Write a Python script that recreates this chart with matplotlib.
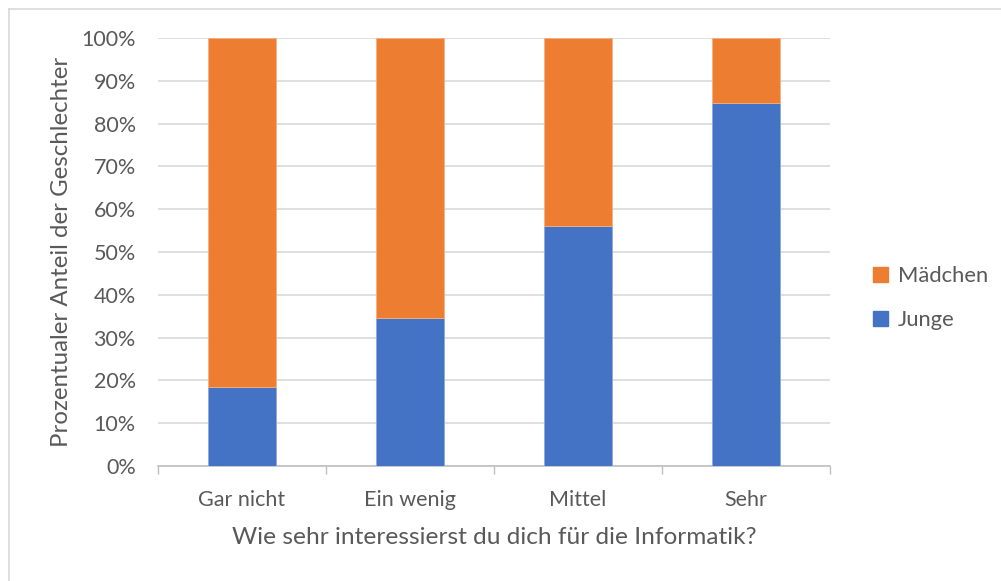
import matplotlib.pyplot as plt
import numpy as np
from matplotlib.lines import Line2D
from matplotlib.patches import Patch

# Daten
categories = ["Gar nicht", "Ein wenig", "Mittel", "Sehr"]
junge = [18.5, 34.5, 56.0, 84.8]
maedchen = [100 - v for v in junge]

blue = "#4472C4"
orange = "#ED7D31"
grey = "#595959"

plt.rcParams['font.family'] = ['Lato', 'DejaVu Sans']

fig = plt.figure(figsize=(10.01, 5.81), dpi=100)
ax = fig.add_axes([158/1001, 1 - 466/581, (830-158)/1001, (466-38)/581])

x = np.arange(len(categories))
ax.bar(x, junge, width=0.4, color=blue, edgecolor="#8faadc", linewidth=0.6, label="Junge", zorder=3)
ax.bar(x, maedchen, width=0.4, bottom=junge, color=orange, edgecolor="#f4b183", linewidth=0.6, label="Mädchen", zorder=3)

ax.set_xlim(-0.5, len(categories) - 0.5)
ax.set_ylim(0, 100)
ax.set_yticks(np.arange(0, 101, 10))
ax.set_yticklabels([f"{v}%" for v in range(0, 101, 10)])
ax.yaxis.grid(True, color="#d9d9d9", linewidth=1.2, zorder=0)
ax.tick_params(axis="y", length=0, pad=16, labelsize=15.5, labelcolor=grey)
ax.set_xticks(x)
ax.set_xticklabels(categories)
ax.tick_params(axis="x", which="major", length=0, pad=17, labelsize=15.5, labelcolor=grey)
ax.set_xticks(np.arange(-0.5, len(categories)), minor=True)
ax.tick_params(axis="x", which="minor", length=6, color="#bfbfbf", width=1)

for s in ["top", "right", "left"]:
    ax.spines[s].set_visible(False)
ax.spines["bottom"].set_color("#bfbfbf")
ax.spines["bottom"].set_linewidth(1.2)

ax.set_ylabel("Prozentualer Anteil der Geschlechter", fontsize=17.3, color=grey)
ax.yaxis.set_label_coords((62 - 158) / 672, 0.5)
ax.set_xlabel("Wie sehr interessierst du dich für die Informatik?", fontsize=17.6, color=grey)
ax.xaxis.set_label_coords(0.5, -(537 - 466) / 428)
ax.xaxis.label.set_va("center")
ax.yaxis.label.set_va("center")

handles = [Patch(color=orange, label="Mädchen"), Patch(color=blue, label="Junge")]
fig.legend(handles=handles, loc="center left", bbox_to_anchor=(853/1001, 1 - 298/581),
           frameon=False, fontsize=15.8, labelcolor=grey, handlelength=0.7, handleheight=0.7,
           handletextpad=0.45, labelspacing=1.1)

# Rahmen (nur links und oben sichtbar)
fig.add_artist(Line2D([9/1001, 9/1001], [0, 1 - 9/581], transform=fig.transFigure, color="#d9d9d9", linewidth=1.2))
fig.add_artist(Line2D([9/1001, 1], [1 - 9/581, 1 - 9/581], transform=fig.transFigure, color="#d9d9d9", linewidth=1.2))

fig.savefig("out.png", dpi=100)
